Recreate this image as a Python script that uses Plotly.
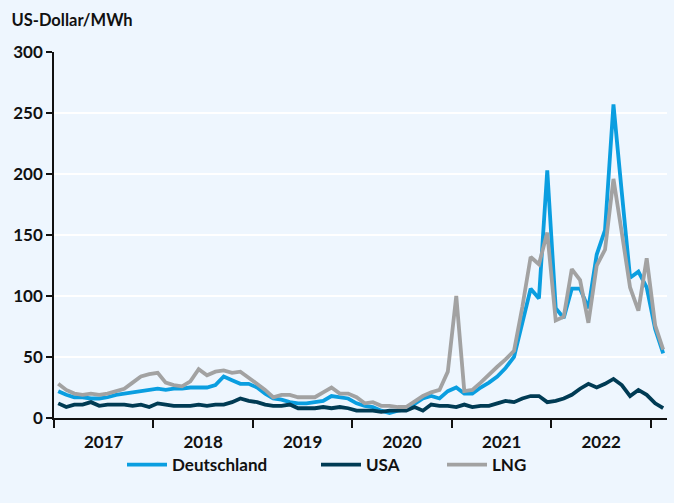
import pandas as pd
import plotly.graph_objects as go

months = [d.strftime("%Y-%m") for d in pd.date_range("2017-01-01", "2023-02-01", freq="MS")]

deutschland = [22, 19, 17, 17, 16, 16, 17, 19, 20, 21, 22, 23,
               24, 23, 24, 24, 25, 25, 25, 27, 34, 31, 28, 28,
               25, 20, 16, 15, 13, 12, 12, 13, 14, 18, 17, 16,
               12, 10, 9, 6, 4, 6, 7, 12, 16, 18, 16, 22,
               25, 20, 20, 25, 29, 34, 41, 50, 78, 106, 98, 203,
               90, 82, 106, 106, 90, 134, 154, 257, 185, 115, 120, 107,
               73, 53]
usa = [12, 9, 11, 11, 13, 10, 11, 11, 11, 10, 11, 9,
       12, 11, 10, 10, 10, 11, 10, 11, 11, 13, 16, 14,
       13, 11, 10, 10, 11, 8, 8, 8, 9, 8, 9, 8,
       6, 6, 6, 5, 6, 6, 6, 9, 6, 11, 10, 10,
       9, 11, 9, 10, 10, 12, 14, 13, 16, 18, 18, 13,
       14, 16, 19, 24, 28, 25, 28, 32, 27, 18, 23, 19,
       12, 8]
lng = [28, 23, 20, 19, 20, 19, 20, 22, 24, 29, 34, 36,
       37, 29, 27, 26, 30, 40, 35, 38, 39, 37, 38, 33,
       28, 23, 17, 19, 19, 17, 17, 17, 21, 25, 20, 20,
       17, 12, 13, 10, 10, 9, 9, 14, 18, 21, 23, 38,
       100, 22, 23, 29, 36, 42, 48, 55, 91, 132, 126, 152,
       80, 83, 122, 113, 78, 125, 138, 196, 152, 107, 88, 131,
       76, 56]

series = [
    ("Deutschland", deutschland, "#0A9EE0", "legend", 127),
    ("USA", usa, "#003B54", "legend2", 321),
    ("LNG", lng, "#A2A2A2", "legend3", 447),
]

FONT = "Lato, 'Source Sans Pro', 'Noto Sans', sans-serif"
BG = "#EEF6FE"
ML, MR, MT, MB = 54, 7, 52, 85
W, H = 674, 503
PW, PH = W - ML - MR, H - MT - MB

fig = go.Figure()
legends = {}
for name, vals, color, leg, px in series:
    fig.add_trace(go.Scatter(
        x=months, y=vals, name=name, mode="lines", legend=leg,
        xperiod="M1", xperiodalignment="middle",
        line=dict(color=color, width=3.8),
    ))
    legends[leg] = dict(
        x=(px - 5 - ML) / PW, xanchor="left",
        y=-47 / PH, yanchor="middle",
        font=dict(family=FONT, size=17, weight="bold", color="#111111"),
        itemwidth=40, bgcolor="rgba(0,0,0,0)",
    )

fig.update_layout(
    width=W, height=H,
    paper_bgcolor=BG, plot_bgcolor=BG,
    margin=dict(l=ML, r=MR, t=MT, b=MB),
    font=dict(family=FONT, size=17, color="#111111", weight="bold"),
    title=dict(text="US-Dollar/MWh", xref="container", x=0.017, xanchor="left",
               yref="container", y=1 - 20 / H, yanchor="middle",
               font=dict(family=FONT, size=16.5, color="#111111", weight="bold")),
    showlegend=True,
    **legends,
    xaxis=dict(
        type="date",
        range=["2017-01-01", "2023-03-01"],
        tick0="2017-01-01", dtick="M12", tickformat="%Y",
        ticklabelmode="period",
        ticks="outside", ticklen=8, tickcolor="#111111", tickwidth=1.5,
        showline=True, linecolor="#111111", linewidth=1.5,
        showgrid=False, zeroline=False,
    ),
    yaxis=dict(
        range=[0, 300], dtick=50,
        ticks="outside", ticklen=6, tickcolor="#111111", tickwidth=1.5,
        showline=True, linecolor="#111111", linewidth=1.5,
        showgrid=True, gridcolor="#FFFFFF", gridwidth=1.5,
        zeroline=False,
    ),
)

fig.write_html("out.html", config={"displayModeBar": False},
               post_script="document.body.style.margin='0';")
